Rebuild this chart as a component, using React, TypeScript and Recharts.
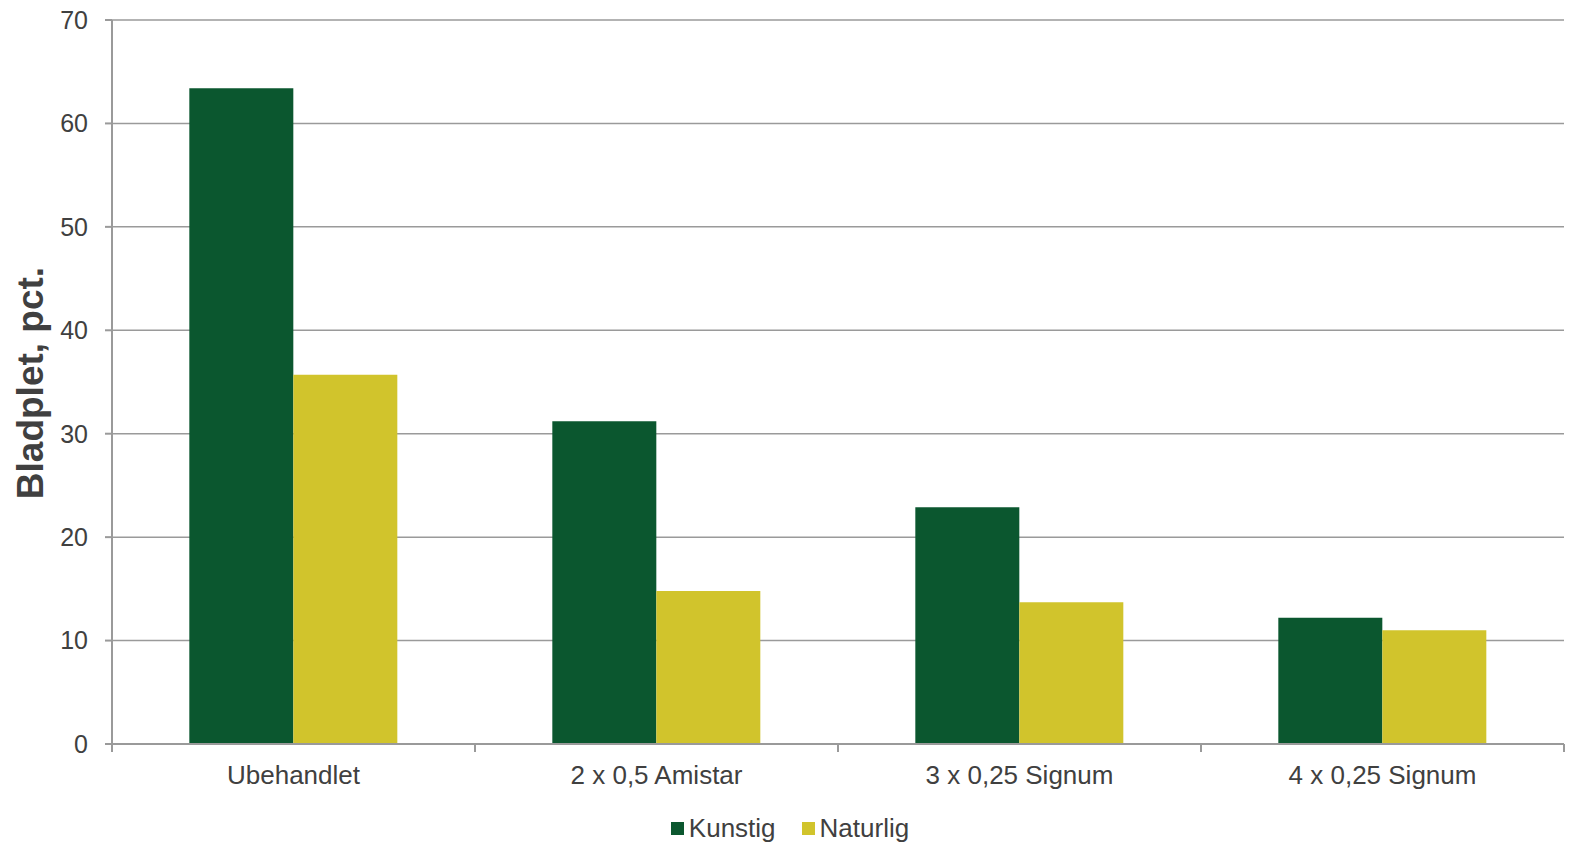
import { BarChart, Bar, XAxis, YAxis, CartesianGrid, Legend, Label } from 'recharts';

const categories = ['Ubehandlet', '2 x 0,5 Amistar', '3 x 0,25 Signum', '4 x 0,25 Signum'];
const kunstig = [63.4, 31.2, 22.9, 12.2];
const naturlig = [35.7, 14.8, 13.7, 11.0];
const yTicks = [0, 10, 20, 30, 40, 50, 60, 70];

const GREEN = '#0b572f';
const YELLOW = '#d1c42c';
const AXIS = '#9a9a9a';
const TEXT = '#404040';
const FONT = '"Liberation Sans", Arial, sans-serif';

const W = 1570;
const H = 845;
const PLOT_LEFT = 112;
const PLOT_RIGHT = 6;
const BAND = (W - PLOT_LEFT - PLOT_RIGHT) / categories.length;

const data = categories.map((name, i) => ({ name, Kunstig: kunstig[i], Naturlig: naturlig[i] }));

function CategoryTick(props: any) {
  const { x, y, payload, index } = props;
  const last = index === categories.length - 1;
  return (
    <g>
      <line x1={x - BAND / 2} x2={x - BAND / 2} y1={y} y2={y + 8} stroke={AXIS} strokeWidth={2} />
      {last && <line x1={x + BAND / 2} x2={x + BAND / 2} y1={y} y2={y + 8} stroke={AXIS} strokeWidth={2} />}
      <text x={x} y={y + 40} textAnchor="middle" fontSize={26} fill={TEXT} fontFamily={FONT}>
        {payload.value}
      </text>
    </g>
  );
}

function LegendContent() {
  const items = [
    { name: 'Kunstig', color: GREEN },
    { name: 'Naturlig', color: YELLOW },
  ];
  return (
    <div
      style={{
        display: 'flex',
        justifyContent: 'center',
        alignItems: 'center',
        height: 41,
        paddingTop: 8,
        paddingLeft: 16,
        boxSizing: 'border-box',
        gap: 26,
        fontFamily: FONT,
        fontSize: 26,
        color: TEXT,
      }}
    >
      {items.map((it) => (
        <div key={it.name} style={{ display: 'flex', alignItems: 'center', gap: 5 }}>
          <span style={{ width: 13, height: 13, background: it.color, display: 'inline-block' }} />
          <span>{it.name}</span>
        </div>
      ))}
    </div>
  );
}

export default function App() {
  return (
    <div style={{ position: 'absolute', left: 0, top: 0, width: W, height: H, background: '#fff' }}>
      <BarChart
        width={W}
        height={H}
        data={data}
        margin={{ top: 20, right: PLOT_RIGHT, left: 0, bottom: 0 }}
        barCategoryGap="21.3%"
        barGap={0}
      >
        <CartesianGrid vertical={false} stroke={AXIS} strokeWidth={1.5} />
        <XAxis
          dataKey="name"
          height={60}
          tickLine={false}
          tickSize={0}
          tickMargin={0}
          axisLine={{ stroke: AXIS, strokeWidth: 2 }}
          tick={<CategoryTick />}
          interval={0}
        />
        <YAxis
          width={PLOT_LEFT}
          domain={[0, 70]}
          ticks={yTicks}
          interval={0}
          tickSize={7}
          tickMargin={17}
          tickLine={{ stroke: AXIS, strokeWidth: 2 }}
          axisLine={{ stroke: AXIS, strokeWidth: 2 }}
          tick={{ fontSize: 25, fill: TEXT, fontFamily: FONT }}
        >
          <Label
            content={() => (
              <text
                x={43}
                y={383}
                transform="rotate(-90, 43, 383)"
                textAnchor="middle"
                fontSize={37}
                fontWeight="bold"
                fill={TEXT}
                fontFamily={FONT}
              >
                Bladplet, pct.
              </text>
            )}
          />
        </YAxis>
        <Legend verticalAlign="bottom" wrapperStyle={{ height: 41 }} content={<LegendContent />} />
        <Bar dataKey="Kunstig" fill={GREEN} isAnimationActive={false} />
        <Bar dataKey="Naturlig" fill={YELLOW} isAnimationActive={false} />
      </BarChart>
    </div>
  );
}
